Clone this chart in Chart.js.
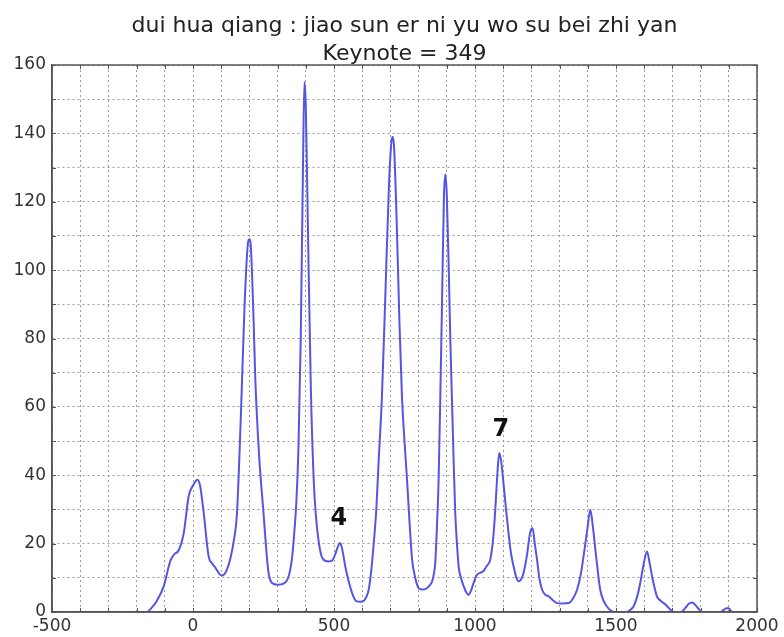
<!DOCTYPE html>
<html>
<head>
<meta charset="utf-8">
<script src="https://cdn.jsdelivr.net/npm/chart.js@4/dist/chart.umd.min.js"></script>
<style>
  html, body { margin: 0; padding: 0; background: #fff; }
  #wrap { width: 784px; height: 637px; }
</style>
</head>
<body>
<div id="wrap"><canvas id="pitchChart" width="784" height="637"></canvas></div>
<script>
// pitch histogram
const cents = [
  -160, -130, -104, -80, -65, -51, -33, -15, 0, 16, 25, 38, 55, 70, 79, 95, 103, 115, 132, 145,
  156, 170, 183, 195, 200, 205, 215, 221, 235, 250, 260, 268, 280, 300, 321, 339, 350, 357, 367, 374,
  382, 390, 395, 400, 408, 418, 428, 436, 445, 455, 463, 480, 493, 505, 511, 522, 530, 540, 552, 564,
  575, 581, 595, 605, 615, 623, 632, 640, 650, 658, 670, 683, 695, 703, 708, 713, 722, 732, 741, 750,
  759, 768, 777, 788, 800, 812, 824, 836, 848, 855, 859, 865, 871, 877, 884, 890, 895, 900, 907, 913,
  918, 924, 930, 936, 942, 950, 960, 970, 977, 987, 995, 1007, 1020, 1030, 1042, 1054, 1065, 1072, 1078, 1086,
  1093, 1101, 1110, 1119, 1128, 1137, 1147, 1155, 1163, 1172, 1185, 1195, 1204, 1212, 1220, 1228, 1238, 1250, 1261, 1275,
  1291, 1310, 1332, 1348, 1362, 1375, 1385, 1398, 1409, 1418, 1427, 1436, 1444, 1455, 1468, 1480, 1492, 1515, 1539, 1550,
  1562, 1575, 1586, 1598, 1610, 1620, 1628, 1637, 1645, 1658, 1669, 1678, 1687, 1696, 1704, 1730, 1746, 1758, 1770, 1782,
  1793, 1805, 1870, 1882, 1892, 1899, 1905, 1911
];
const counts = [
  0, 3, 7.5, 15, 17, 18, 23, 34, 37, 38.7, 37, 29, 16.5, 14, 13, 11, 10.7, 11.5, 15.5, 21,
  29, 58, 90, 108, 109, 107, 85, 68, 45, 29, 18, 11.4, 8.5, 8, 8.3, 10.4, 15, 21, 33, 48,
  80, 130, 155, 148, 110, 65, 38.7, 28, 21, 16.5, 15.3, 14.8, 15, 17, 18.5, 20.2, 18, 13.3, 9, 5.6,
  3.5, 3.1, 3, 3.2, 4.5, 6.5, 12, 19.2, 30, 43.6, 63, 95, 125, 137, 139, 136, 115, 85, 63, 50,
  38.7, 26, 15.3, 10, 7, 6.6, 6.7, 7.5, 9, 11.5, 14.3, 25, 38.7, 63, 95, 122, 128, 122, 100, 78,
  63, 45, 29, 20, 13.3, 10, 7.5, 5.6, 5, 6.5, 8.5, 10.9, 11.5, 12, 13.5, 15.3, 22, 30, 38.7, 46.5,
  44, 37.7, 30, 23, 17, 13.3, 10, 9, 9.5, 11.4, 17, 23, 24.6, 20, 15.3, 10, 6.5, 5, 4.6, 3.5,
  2.6, 2.5, 2.6, 4, 6.5, 11, 16.3, 24, 29.9, 25, 18.2, 11.5, 6.5, 3.5, 1.6, 0.5, 0, 0, 0, 0.6,
  1.6, 4.5, 8.5, 14, 17.7, 14, 10.4, 7, 4.6, 3.3, 2.6, 2, 1.2, 0.4, 0, 0, 1.2, 2.4, 2.8, 2,
  0.9, 0, 0, 0.6, 1.1, 1.1, 0.6, 0
];

// scale degree labels placed on the plot
const noteLabels = ['4', '7'];
const noteX = [517, 1092];
const noteY = [25.5, 51.5];

const titleLines = ['dui hua qiang : jiao sun er ni yu wo su bei zhi yan', 'Keynote = 349'];

const xMin = -500, xMax = 2000, xStep = 100, xLabelEvery = 500;
const yMin = 0, yMax = 160, yStep = 10, yLabelEvery = 20;

const fontName = '"DejaVu Sans", sans-serif';

// title centred over the axes (like matplotlib), not over the whole canvas
const titlePlugin = {
    id: 'axesTitle',
    afterDraw(chart) {
        const ctx = chart.ctx;
        const a = chart.chartArea;
        ctx.save();
        ctx.fillStyle = '#222';
        ctx.font = '22px ' + fontName;
        ctx.textAlign = 'center';
        ctx.textBaseline = 'alphabetic';
        const cx = (a.left + a.right) / 2;
        ctx.fillText(titleLines[0], cx, a.top - 33);
        ctx.fillText(titleLines[1], cx, a.top - 5);
        ctx.restore();
    }
};

// frame around the plot, small inward ticks, and the digit labels
const framePlugin = {
    id: 'frame',
    afterDatasetsDraw(chart) {
        const ctx = chart.ctx;
        const a = chart.chartArea;
        const xs = chart.scales.x, ys = chart.scales.y;
        ctx.save();
        ctx.strokeStyle = '#555';
        ctx.lineWidth = 1.5;
        ctx.strokeRect(a.left, a.top, a.right - a.left, a.bottom - a.top);

        // inward tick marks (matplotlib style)
        ctx.lineWidth = 1;
        ctx.beginPath();
        xs.ticks.forEach(t => {
            const px = Math.round(xs.getPixelForValue(t.value)) + 0.5;
            ctx.moveTo(px, a.bottom); ctx.lineTo(px, a.bottom - 4);
            ctx.moveTo(px, a.top); ctx.lineTo(px, a.top + 4);
        });
        ys.ticks.forEach(t => {
            const py = Math.round(ys.getPixelForValue(t.value)) + 0.5;
            ctx.moveTo(a.left, py); ctx.lineTo(a.left + 4, py);
            ctx.moveTo(a.right, py); ctx.lineTo(a.right - 4, py);
        });
        ctx.stroke();

        ctx.fillStyle = '#111';
        ctx.font = 'bold 24px ' + fontName;
        ctx.textAlign = 'center';
        ctx.textBaseline = 'alphabetic';
        for (let i = 0; i < noteLabels.length; i++) {
            ctx.fillText(noteLabels[i], xs.getPixelForValue(noteX[i]), ys.getPixelForValue(noteY[i]));
        }
        ctx.restore();
    }
};

const gridStyle = {
    color: '#9a9a9a',
    lineWidth: 1,
    drawTicks: false
};

const ctx = document.getElementById('pitchChart').getContext('2d');
const pitchChart = new Chart(ctx, {
    type: 'line',
    data: {
        datasets: [{
            data: cents.map((c, i) => ({ x: c, y: counts[i] })),
            borderColor: 'rgb(85, 85, 228)',
            borderWidth: 2,
            pointRadius: 0,
            fill: false,
            cubicInterpolationMode: 'monotone'
        }]
    },
    options: {
        responsive: false,
        animation: false,
        layout: {
            padding: { left: 0, right: 27, top: 65, bottom: 0 }
        },
        plugins: {
            legend: { display: false },
            tooltip: { enabled: false },
            title: { display: false }
        },
        scales: {
            x: {
                type: 'linear',
                min: xMin,
                max: xMax,
                grid: gridStyle,
                border: { display: true, color: '#555', width: 1.5, dash: [2, 3] },
                ticks: {
                    stepSize: xStep,
                    autoSkip: false,
                    maxRotation: 0,
                    padding: 4,
                    color: '#333',
                    font: { family: fontName, size: 17 },
                    callback: v => (v % xLabelEvery === 0 ? v : '')
                },
                afterFit: s => { s.height = 25; }
            },
            y: {
                min: yMin,
                max: yMax,
                grid: gridStyle,
                border: { display: true, color: '#555', width: 1.5, dash: [2, 3] },
                ticks: {
                    stepSize: yStep,
                    autoSkip: false,
                    padding: 6,
                    color: '#333',
                    font: { family: fontName, size: 17 },
                    callback: v => (v % yLabelEvery === 0 ? v : '')
                },
                afterFit: s => { s.width = 52; }
            }
        }
    },
    plugins: [framePlugin, titlePlugin]
});
</script>
</body>
</html>
